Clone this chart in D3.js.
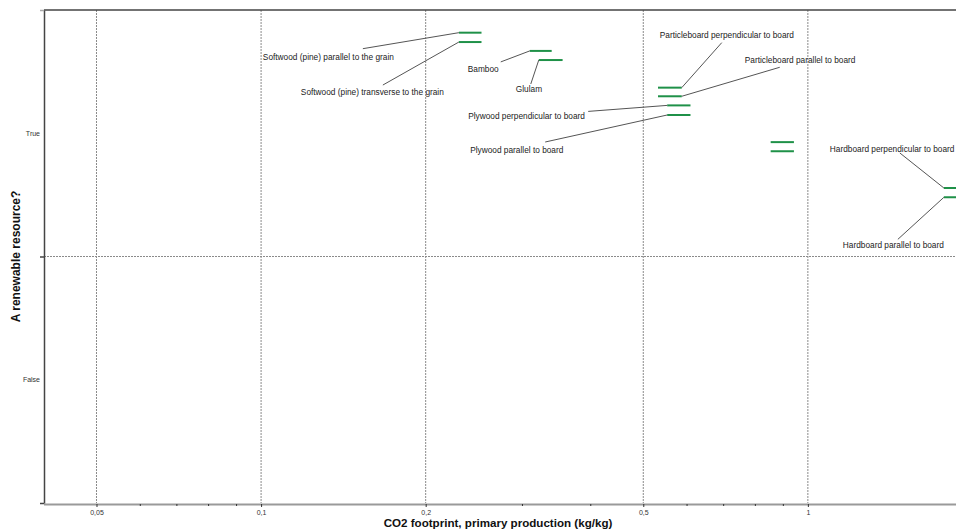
<!DOCTYPE html>
<html><head><meta charset="utf-8">
<script src="https://cdn.jsdelivr.net/npm/d3@7"></script>
<style>
body{margin:0;background:#fff;}
text{font-family:"Liberation Sans",Arial,sans-serif;}
</style></head>
<body><svg id="c" width="956" height="531"></svg>
<script>
// ---- data ----
const materials = [
  "Softwood (pine) parallel to the grain",
  "Softwood (pine) transverse to the grain",
  "Bamboo",
  "Glulam",
  "Particleboard perpendicular to board",
  "Particleboard parallel to board",
  "Plywood perpendicular to board",
  "Plywood parallel to board",
  "",
  "",
  "Hardboard perpendicular to board",
  "Hardboard parallel to board"
];
const co2Low  = [0.230, 0.230, 0.310, 0.322, 0.532, 0.532, 0.553, 0.553, 0.855, 0.855, 1.773, 1.773];
const co2High = [0.253, 0.253, 0.340, 0.356, 0.588, 0.588, 0.610, 0.610, 0.943, 0.943, 2.10, 2.10];
const renewable = [true,true,true,true,true,true,true,true,true,true,true,true];
// vertical place of each record inside its category band (0..1, 0 = bottom of band)
const bandPlace = [0.908, 0.870, 0.834, 0.797, 0.685, 0.650, 0.613, 0.574, 0.464, 0.427, 0.278, 0.240];
const categories = ["False", "True"];
const majorTicks = [0.05, 0.1, 0.2, 0.5, 1];
const majorTickLabels = ["0,05", "0,1", "0,2", "0,5", "1"];
const minorTicks = [0.06, 0.07, 0.08, 0.09, 0.3, 0.4, 0.6, 0.7, 0.8, 0.9];

// ---- label layout (pixel offsets from bar end) ----
const labelLayout = [
  {end:"l", tx:-196, ty:27, lx:-96, ly:16},
  {end:"l", tx:-158, ty:53, lx:-76, ly:43},
  {end:"l", tx:-62, ty:21, lx:-29, ly:11},
  {end:"l", tx:-23, ty:32, lx:-8, ly:24},
  {end:"r", tx:-22, ty:-50, lx:40, ly:-45},
  {end:"r", tx:63, ty:-33, lx:98, ly:-29},
  {end:"l", tx:-199, ty:14, lx:-79, ly:6},
  {end:"l", tx:-197, ty:38, lx:-122, ly:27},
  null, null,
  {end:"l", tx:-114, ty:-36, lx:-44, ly:-35},
  {end:"l", tx:-101, ty:51, lx:-46, ly:42}
];

const svg = d3.select("#c");
const L = 44, R = 956, T = 10, B = 503;
const x = d3.scaleLog().domain([0.04, 1.87]).range([43.5, 956.5]);
const y = d3.scaleLinear().domain([0, 2]).range([B, T]);
const catVal = c => categories.indexOf(c);

// clip
svg.append("clipPath").attr("id","plot").append("rect")
  .attr("x", L).attr("y", T).attr("width", R - L).attr("height", B - T);

// grid
const grid = svg.append("g");
grid.selectAll("line.v").data(majorTicks).join("line")
  .attr("x1", d => x(d)).attr("x2", d => x(d)).attr("y1", T).attr("y2", B)
  .attr("stroke", "#8a8a8a").attr("stroke-width", 1).attr("stroke-dasharray", "2,1");
grid.append("line").attr("x1", L).attr("x2", R).attr("y1", y(1)).attr("y2", y(1))
  .attr("stroke", "#8a8a8a").attr("stroke-width", 1).attr("stroke-dasharray", "2,1");

// axes
const xAxis = d3.axisBottom(x).tickValues(majorTicks)
  .tickFormat((d, i) => majorTickLabels[i]).tickSize(3).tickSizeOuter(0).tickPadding(3);
const gx = svg.append("g").attr("transform", `translate(0,${B + 1})`).call(xAxis);
gx.select(".domain").attr("stroke", "#9a9a9a").attr("stroke-width", 2);
gx.selectAll(".tick line").attr("stroke", "#333");
gx.selectAll(".tick text").attr("font-size", 7).attr("fill", "#333")
  .attr("font-family", "'Liberation Sans',Arial,sans-serif");
const gxm = svg.append("g").attr("transform", `translate(0,${B + 1})`)
  .call(d3.axisBottom(x).tickValues(minorTicks).tickFormat("").tickSize(2).tickSizeOuter(0));
gxm.select(".domain").remove();
gxm.selectAll(".tick line").attr("stroke", "#333");

const yAxis = d3.axisLeft(y).tickValues([0, 1, 2]).tickFormat("").tickSize(4).tickSizeOuter(0);
const gy = svg.append("g").attr("transform", `translate(${L},0)`).call(yAxis);
gy.select(".domain").attr("stroke", "#444").attr("stroke-width", 1.5);
gy.selectAll(".tick line").attr("stroke", (d) => d === 2 ? "#aaa" : "#444").attr("stroke-width", 1.5);
svg.append("g").selectAll("text").data(categories).join("text")
  .attr("x", 40).attr("y", (d, i) => y(i + 0.5) + 2.5).attr("text-anchor", "end")
  .attr("font-size", 7).attr("fill", "#333").text(d => d);

// top border
svg.append("line").attr("x1", L).attr("x2", R).attr("y1", T).attr("y2", T)
  .attr("stroke", "#444").attr("stroke-width", 1.5);

// titles
svg.append("text").attr("x", 498).attr("y", 527).attr("text-anchor", "middle")
  .attr("font-size", 11.6).attr("font-weight", "bold").attr("fill", "#111")
  .text("CO2 footprint, primary production (kg/kg)");
svg.append("text").attr("transform", `translate(20,${y(1)}) rotate(-90)`).attr("text-anchor", "middle")
  .attr("font-size", 12).attr("font-weight", "bold").attr("fill", "#111")
  .text("A renewable resource?");

// bars
const recs = materials.map((m, i) => ({
  name: m, lo: co2Low[i], hi: co2High[i],
  yv: catVal(renewable[i] ? "True" : "False") + bandPlace[i], lay: labelLayout[i]
}));
svg.append("g").attr("clip-path", "url(#plot)").selectAll("line").data(recs).join("line")
  .attr("x1", d => x(d.lo)).attr("x2", d => x(d.hi))
  .attr("y1", d => y(d.yv)).attr("y2", d => y(d.yv))
  .attr("stroke", "#1f9148").attr("stroke-width", 2);

// labels
const lab = svg.append("g");
recs.filter(d => d.lay).forEach(d => {
  const ax = d.lay.end === "l" ? x(d.lo) : x(d.hi);
  const ay = y(d.yv);
  lab.append("line").attr("x1", ax + d.lay.lx).attr("y1", ay + d.lay.ly)
    .attr("x2", ax).attr("y2", ay).attr("stroke", "#555").attr("stroke-width", 1);
  lab.append("text").attr("x", ax + d.lay.tx).attr("y", ay + d.lay.ty)
    .attr("font-size", 8.3).attr("fill", "#222").text(d.name);
});
</script></body></html>
